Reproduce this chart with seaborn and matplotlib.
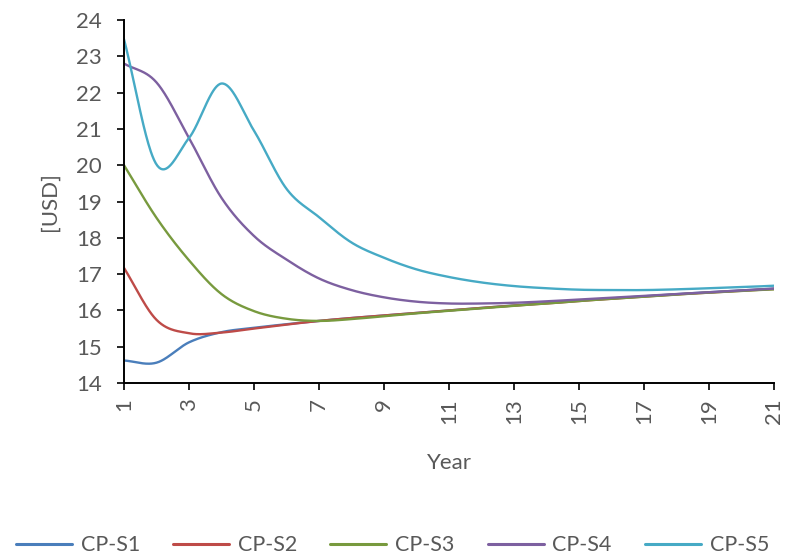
import numpy as np
import pandas as pd
import matplotlib
matplotlib.use("Agg")
import matplotlib.pyplot as plt
import seaborn as sns
from matplotlib.lines import Line2D

# Yearly cost per scenario, USD
years = list(range(1, 22))
cp_s1 = [14.62, 14.56, 15.12, 15.40, 15.52, 15.62, 15.71, 15.79, 15.86, 15.93, 16.00,
         16.07, 16.14, 16.20, 16.27, 16.33, 16.39, 16.45, 16.50, 16.55, 16.60]
cp_s2 = [17.17, 15.74, 15.37, 15.39, 15.50, 15.61, 15.71, 15.79, 15.86, 15.93, 16.00,
         16.07, 16.13, 16.19, 16.26, 16.32, 16.38, 16.44, 16.49, 16.54, 16.59]
cp_s3 = [20.00, 18.55, 17.38, 16.45, 15.98, 15.77, 15.71, 15.76, 15.84, 15.92, 15.99,
         16.06, 16.13, 16.19, 16.26, 16.32, 16.38, 16.44, 16.49, 16.54, 16.58]
cp_s4 = [22.80, 22.28, 20.75, 19.10, 18.05, 17.40, 16.88, 16.56, 16.36, 16.24, 16.19,
         16.19, 16.21, 16.25, 16.30, 16.35, 16.40, 16.45, 16.50, 16.55, 16.60]
cp_s5 = [23.47, 20.02, 20.75, 22.25, 20.95, 19.35, 18.57, 17.87, 17.45, 17.13, 16.92,
         16.77, 16.67, 16.61, 16.57, 16.56, 16.56, 16.58, 16.61, 16.64, 16.68]

series_names = ["CP-S1", "CP-S2", "CP-S3", "CP-S4", "CP-S5"]
series_values = [cp_s1, cp_s2, cp_s3, cp_s4, cp_s5]
colors = ["#4A7EBB", "#BE4B48", "#789A3E", "#7D60A0", "#46AAC5"]
x_ticks = list(range(1, 22, 2))
y_ticks = list(range(14, 25))


def smooth(x, y, steps=40):
    """Catmull-Rom smoothing through every data point (spreadsheet-style smoothed line)."""
    x = np.asarray(x, float)
    y = np.asarray(y, float)
    n = len(x)
    mx = np.empty(n)
    my = np.empty(n)
    mx[1:-1] = (x[2:] - x[:-2]) / 2
    my[1:-1] = (y[2:] - y[:-2]) / 2
    mx[0], my[0] = x[1] - x[0], y[1] - y[0]
    mx[-1], my[-1] = x[-1] - x[-2], y[-1] - y[-2]
    xs, ys = [], []
    t = np.linspace(0, 1, steps, endpoint=False)
    h00 = 2 * t**3 - 3 * t**2 + 1
    h10 = t**3 - 2 * t**2 + t
    h01 = -2 * t**3 + 3 * t**2
    h11 = t**3 - t**2
    for i in range(n - 1):
        xs.append(h00 * x[i] + h10 * mx[i] + h01 * x[i + 1] + h11 * mx[i + 1])
        ys.append(h00 * y[i] + h10 * my[i] + h01 * y[i + 1] + h11 * my[i + 1])
    xs.append([x[-1]])
    ys.append([y[-1]])
    return np.concatenate(xs), np.concatenate(ys)


frames = []
for name, vals in zip(series_names, series_values):
    sx, sy = smooth(years, vals)
    frames.append(pd.DataFrame({"Year": sx, "USD": sy, "Scenario": name}))
df = pd.concat(frames, ignore_index=True)

sns.set_style("white")
plt.rcParams["font.family"] = ["Lato", "DejaVu Sans"]
text_color = "#595959"

fig = plt.figure(figsize=(7.85, 5.55), dpi=100)
ax = fig.add_axes([124 / 785, 1 - 383 / 555, (774 - 124) / 785, (383 - 20) / 555])

sns.lineplot(data=df, x="Year", y="USD", hue="Scenario", palette=colors,
             hue_order=series_names, estimator=None, sort=False, units="Scenario",
             linewidth=1.7, ax=ax, legend=False)

ax.set_xlim(1, 21)
ax.set_ylim(14, 24)
ax.set_xticks(x_ticks)
ax.set_yticks(y_ticks)
ax.set_xticklabels([str(v) for v in x_ticks], rotation=90)
ax.tick_params(axis="both", which="both", direction="out", length=5, width=1.2,
               color="black", labelcolor=text_color, labelsize=16)
ax.tick_params(axis="y", pad=11, left=True)
ax.tick_params(axis="x", pad=6, bottom=True)

for side in ["top", "right"]:
    ax.spines[side].set_visible(False)
for side in ["left", "bottom"]:
    ax.spines[side].set_color("black")
    ax.spines[side].set_linewidth(1.4)

ax.set_xlabel("Year", fontsize=16, color=text_color, labelpad=21)
ax.set_ylabel("[USD]", fontsize=16, color=text_color, labelpad=12)
ax.grid(False)

handles = [Line2D([0], [0], color=c, linewidth=2.2) for c in colors]
fig.legend(handles, series_names, loc="lower center", bbox_to_anchor=(0.5, -0.035),
           ncol=5, frameon=False, fontsize=15.5, labelcolor=text_color,
           handlelength=2.6, handletextpad=0.4, columnspacing=1.55)

fig.savefig("out.png", dpi=100)
